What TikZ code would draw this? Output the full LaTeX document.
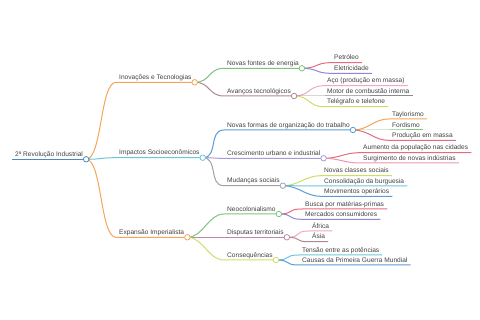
\documentclass[tikz,border=0pt]{standalone}
\usepackage{fontspec}
\setmainfont{Liberation Sans}
% Colores de las ramas
\definecolor{cTexto}{HTML}{404040}
\definecolor{cRaiz}{HTML}{4A88C8}
\definecolor{cNaranja}{HTML}{F2A65A}
\definecolor{cCian}{HTML}{6CC6D9}
\definecolor{cVerde}{HTML}{7CC47C}
\definecolor{cMalva}{HTML}{B08890}
\definecolor{cRosaM}{HTML}{C088A8}
\definecolor{cAzul}{HTML}{5A9BD5}
\definecolor{cLila}{HTML}{A99BD8}
\definecolor{cGris}{HTML}{A0A0A8}
\definecolor{cGrisO}{HTML}{8A8A96}
\definecolor{cRosa}{HTML}{E66A80}
\definecolor{cRosaC}{HTML}{F0A8C4}
\definecolor{cVioleta}{HTML}{8C88D8}
\definecolor{cAmarillo}{HTML}{D2DB6A}
\begin{document}
\begin{tikzpicture}[x=1pt,y=-1pt,
    tema/.style={anchor=south west, inner xsep=3pt, inner ysep=0pt, text depth=2.5pt,
        font=\fontsize{6.6}{7.5}\selectfont, text=cTexto},
    rama/.style={line width=1pt},
    punto/.style={circle, draw, fill=white, line width=0.8pt, inner sep=0pt, minimum size=5.5pt}]
    \useasboundingbox (0,0) rectangle (480,320);
    % Raiz
    \node[tema] (raiz) at (12,159.3) {2ª Revolução Industrial};
    \draw[cRaiz, line width=1.5pt] (raiz.south west) -- (raiz.south east);
    % Ramas: padre/nombre/x/y/color/texto
    \foreach \p/\n/\x/\y/\c/\t in {
        raiz/inov/116/82.3/cNaranja/Inovações e Tecnologias,
        raiz/impac/116/157.7/cCian/Impactos Socioeconômicos,
        raiz/expan/116/237.3/cNaranja/Expansão Imperialista,
        inov/fontes/224/68.3/cVerde/Novas fontes de energia,
        inov/avanc/224/96/cMalva/Avanços tecnológicos,
        impac/formas/224/130/cAzul/Novas formas de organização do trabalho,
        impac/cresc/224/158.3/cLila/Crescimento urbano e industrial,
        impac/mudan/224/185.7/cGris/Mudanças sociais,
        expan/neoc/224/214/cVerde/Neocolonialismo,
        expan/disp/224/237.3/cRosaM/Disputas territoriais,
        expan/conse/224/260/cAmarillo/Consequências,
        fontes/petro/331/62.7/cRosa/Petróleo,
        fontes/eletr/331/73.3/cVioleta/Eletricidade,
        avanc/aco/324/85.7/cRosaC/Aço (produção em massa),
        avanc/motor/324/96/cGrisO/Motor de combustão interna,
        avanc/teleg/324/106.7/cAmarillo/Telégrafo e telefone,
        formas/taylor/389/119/cNaranja/Taylorismo,
        formas/ford/389/130/cVerde/Fordismo,
        formas/prod/389/140.3/cRosa/Produção em massa,
        cresc/aument/360/152.7/cRosa/Aumento da população nas cidades,
        cresc/surg/360/163/cRosaC!70!cRosa/Surgimento de novas indústrias,
        mudan/classes/321/175.7/cAmarillo/Novas classes sociais,
        mudan/burg/321/186/cCian/Consolidação da burguesia,
        mudan/movim/321/196.3/cAzul/Movimentos operários,
        neoc/busca/302/209/cRosa/Busca por matérias-primas,
        neoc/merc/302/219.3/cVioleta/Mercados consumidores,
        disp/africa/309/231/cRosaC/África,
        disp/asia/309/241.7/cMalva/Ásia,
        conse/tensao/299/255/cCian/Tensão entre as potências,
        conse/causas/299/265/cAzul/Causas da Primeira Guerra Mundial}
    {
        \node[tema] (\n) at (\x,\y) {\t};
        \draw[rama, \c] (\p.south east) .. controls +(16,0) and +(-16,0) .. (\n.south west)
            -- (\n.south east);
    }
    % Puntos de union
    \foreach \n/\c in {raiz/cRaiz, inov/cNaranja, impac/cCian, expan/cNaranja,
        fontes/cVerde, avanc/cMalva, formas/cAzul, cresc/cLila, mudan/cGris,
        neoc/cVerde, disp/cRosaM, conse/cAmarillo}
        \node[punto, draw=\c] (\n-p) at (\n.south east) {};
\end{tikzpicture}
\end{document}
